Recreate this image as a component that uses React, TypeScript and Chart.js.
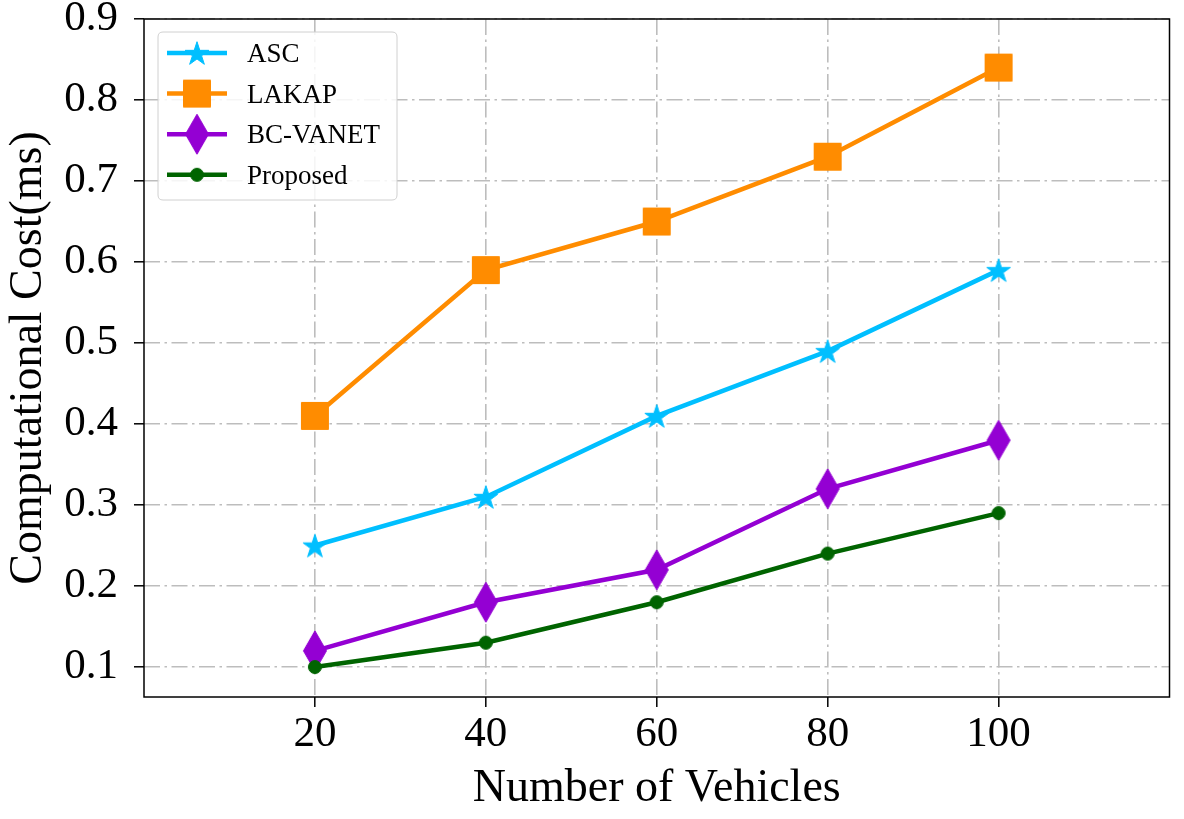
import React, { useEffect, useRef } from 'react';
import { Chart, registerables } from 'chart.js';

Chart.register(...registerables);

const xValues = [20, 40, 60, 80, 100];
const xTicks = [20, 40, 60, 80, 100];
const yTicks = [0.1, 0.2, 0.3, 0.4, 0.5, 0.6, 0.7, 0.8, 0.9];
const seriesNames = ['ASC', 'LAKAP', 'BC-VANET', 'Proposed'];
const ascValues = [0.25, 0.31, 0.41, 0.49, 0.59];
const lakapValues = [0.41, 0.59, 0.65, 0.73, 0.84];
const bcVanetValues = [0.12, 0.18, 0.22, 0.32, 0.38];
const proposedValues = [0.1, 0.13, 0.18, 0.24, 0.29];
const seriesColors = ['#00bfff', '#ff8c00', '#9400d3', '#006400'];
const seriesMarkers = ['star', 'square', 'thinDiamond', 'circle'];
const xTitle = 'Number of Vehicles';
const yTitle = 'Computational Cost(ms)';

const FONT = "'Liberation Serif', 'Times New Roman', serif";

function makeMarker(kind: string, color: string): HTMLCanvasElement {
  const c = document.createElement('canvas');
  let w = 28, h = 28;
  if (kind === 'thinDiamond') { w = 26; h = 42; }
  if (kind === 'square') { w = 30; h = 30; }
  if (kind === 'circle') { w = 16; h = 16; }
  c.width = w; c.height = h;
  const ctx = c.getContext('2d')!;
  ctx.fillStyle = color;
  ctx.strokeStyle = color;
  ctx.lineWidth = 1;
  const cx = w / 2, cy = h / 2;
  ctx.beginPath();
  if (kind === 'star') {
    const R = 12.5, r = R * 0.381966;
    for (let i = 0; i < 10; i++) {
      const rad = i % 2 === 0 ? R : r;
      const a = -Math.PI / 2 + (i * Math.PI) / 5;
      const px = cx + rad * Math.cos(a);
      const py = cy + 1.2 + rad * Math.sin(a);
      if (i === 0) ctx.moveTo(px, py); else ctx.lineTo(px, py);
    }
    ctx.closePath();
  } else if (kind === 'square') {
    ctx.rect(cx - 13.5, cy - 13.5, 27, 27);
  } else if (kind === 'thinDiamond') {
    ctx.moveTo(cx, cy - 20);
    ctx.lineTo(cx + 11.5, cy);
    ctx.lineTo(cx, cy + 20);
    ctx.lineTo(cx - 11.5, cy);
    ctx.closePath();
  } else {
    ctx.arc(cx, cy, 6.5, 0, Math.PI * 2);
  }
  ctx.fill();
  ctx.stroke();
  return c;
}

export default function App() {
  const canvasRef = useRef<HTMLCanvasElement | null>(null);

  useEffect(() => {
    document.body.style.margin = '0';
    const canvas = canvasRef.current;
    if (!canvas) return;
    const allValues = [ascValues, lakapValues, bcVanetValues, proposedValues];
    const markers = seriesMarkers.map((m, i) => makeMarker(m, seriesColors[i]));

    const datasets = allValues.map((vals, i) => ({
      label: seriesNames[i],
      data: xValues.map((x, j) => ({ x, y: vals[j] })),
      borderColor: seriesColors[i],
      backgroundColor: seriesColors[i],
      borderWidth: 4.5,
      tension: 0,
      pointStyle: markers[i],
      pointRadius: 10,
      pointHoverRadius: 10,
      order: 4 - i,
      fill: false,
    }));

    const frameAndLegend = {
      id: 'frameAndLegend',
      afterDraw(chart: any) {
        const { ctx, chartArea } = chart;
        const { left, top, right, bottom } = chartArea;
        ctx.save();
        ctx.strokeStyle = '#000';
        ctx.lineWidth = 1.5;
        ctx.setLineDash([]);
        ctx.strokeRect(left, top, right - left, bottom - top);

        // legend
        const lx = left + 14, ly = top + 13, lw = 239, lh = 168, rr = 5;
        ctx.beginPath();
        ctx.moveTo(lx + rr, ly);
        ctx.lineTo(lx + lw - rr, ly);
        ctx.quadraticCurveTo(lx + lw, ly, lx + lw, ly + rr);
        ctx.lineTo(lx + lw, ly + lh - rr);
        ctx.quadraticCurveTo(lx + lw, ly + lh, lx + lw - rr, ly + lh);
        ctx.lineTo(lx + rr, ly + lh);
        ctx.quadraticCurveTo(lx, ly + lh, lx, ly + lh - rr);
        ctx.lineTo(lx, ly + rr);
        ctx.quadraticCurveTo(lx, ly, lx + rr, ly);
        ctx.closePath();
        ctx.fillStyle = 'rgba(255,255,255,0.85)';
        ctx.fill();
        ctx.strokeStyle = '#d0d0d0';
        ctx.lineWidth = 1;
        ctx.stroke();

        ctx.font = `27px ${FONT}`;
        ctx.textBaseline = 'middle';
        ctx.textAlign = 'left';
        seriesNames.forEach((name, i) => {
          const ry = top + 34 + i * 40.6;
          ctx.strokeStyle = seriesColors[i];
          ctx.lineWidth = 4.5;
          ctx.beginPath();
          ctx.moveTo(left + 23, ry);
          ctx.lineTo(left + 83, ry);
          ctx.stroke();
          const m = markers[i];
          ctx.drawImage(m, left + 53 - m.width / 2, ry - m.height / 2);
          ctx.fillStyle = '#000';
          ctx.fillText(name, left + 103, ry + 2);
        });
        ctx.restore();
      },
    };

    const gridCommon = {
      color: '#bdbdbd',
      lineWidth: 1.6,
      drawTicks: true,
      tickLength: 10,
      tickColor: '#000',
      tickWidth: 1.5,
      tickBorderDash: [],
    };

    const chart = new Chart(canvas, {
      type: 'line',
      data: { datasets },
      options: {
        animation: false,
        responsive: false,
        devicePixelRatio: 1,
        layout: { padding: { left: 0, top: 19, right: 14, bottom: 0 } },
        plugins: { legend: { display: false }, tooltip: { enabled: false } },
        scales: {
          x: {
            type: 'linear',
            min: 0,
            max: 120,
            afterBuildTicks: (scale: any) => {
              scale.ticks = xTicks.map((v) => ({ value: v }));
            },
            afterFit: (scale: any) => {
              scale.height = 122;
              scale.paddingLeft = 0;
              scale.paddingRight = 0;
              scale.paddingTop = 0;
              scale.paddingBottom = 0;
            },
            grid: gridCommon,
            border: { display: false, dash: [16, 4.5, 2.5, 4.5] },
            ticks: {
              color: '#000',
              font: { family: FONT, size: 43 },
              padding: 2,
              maxRotation: 0,
              callback: (v: any) => String(v),
            },
            title: {
              display: true,
              text: xTitle,
              color: '#000',
              font: { family: FONT, size: 46 },
              padding: { top: 0, bottom: 2 },
            },
          },
          y: {
            type: 'linear',
            min: 0.063,
            max: 0.9,
            afterBuildTicks: (scale: any) => {
              scale.ticks = yTicks.map((v) => ({ value: v }));
            },
            afterFit: (scale: any) => {
              scale.width = 144;
              scale.paddingLeft = 0;
              scale.paddingRight = 0;
              scale.paddingTop = 0;
              scale.paddingBottom = 0;
            },
            grid: gridCommon,
            border: { display: false, dash: [16, 4.5, 2.5, 4.5] },
            ticks: {
              color: '#000',
              font: { family: FONT, size: 43 },
              padding: 16,
              callback: (v: any) => Number(v).toFixed(1),
            },
            title: {
              display: true,
              text: yTitle,
              color: '#000',
              font: { family: FONT, size: 46 },
              padding: { top: 1, bottom: 0 },
            },
          },
        },
      },
      plugins: [frameAndLegend],
    } as any);

    return () => chart.destroy();
  }, []);

  return (
    <div style={{ position: 'fixed', left: 0, top: 0, width: 1184, height: 819, background: '#fff' }}>
      <canvas ref={canvasRef} width={1184} height={819} style={{ display: 'block' }} />
    </div>
  );
}
